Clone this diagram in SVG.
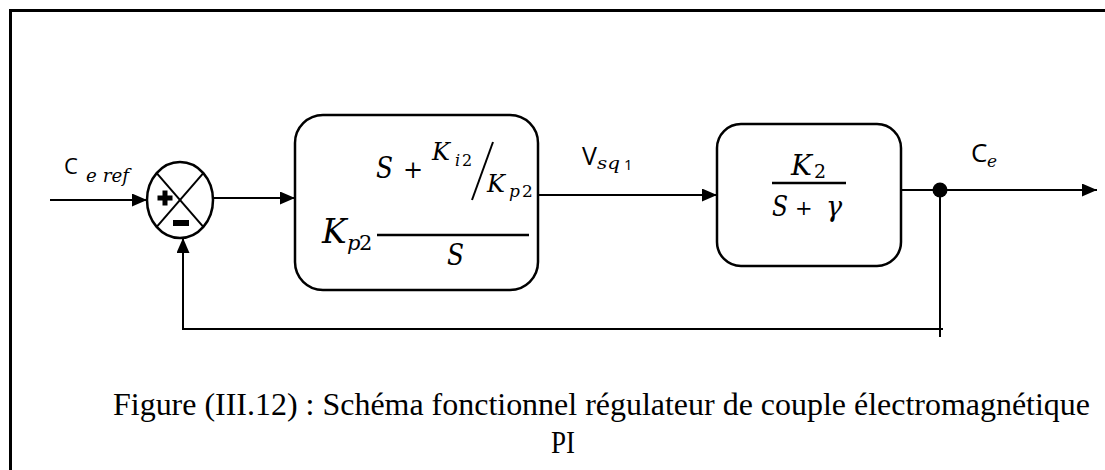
<svg xmlns="http://www.w3.org/2000/svg" width="1105" height="470" viewBox="0 0 1105 470">
  <style>
    .frame { stroke: #000; stroke-width: 3; fill: none; }
    .block { fill: #fff; stroke: #000; stroke-width: 2.5; }
    .wire { stroke: #000; stroke-width: 2; fill: none; }
    .sig { font-family: "Open Sans", "DejaVu Sans", sans-serif; fill: #000; }
    .math { font-family: "DejaVu Serif", "Liberation Serif", serif; font-style: italic; fill: #000; }
    .mathup { font-family: "DejaVu Serif", "Liberation Serif", serif; fill: #000; }
    .caption { font-family: "Liberation Serif", "Times New Roman", serif; font-size: 32px; fill: #000; }
  </style>
  <defs>
    <marker id="arrow" markerUnits="userSpaceOnUse" markerWidth="15" markerHeight="13" refX="15" refY="6.5" orient="auto">
      <path d="M0,0 L15,6.5 L0,13 Z" fill="#000"/>
    </marker>
    <clipPath id="box1clip">
      <rect x="295" y="115" width="242" height="175"/>
    </clipPath>
  </defs>

  <rect width="1105" height="470" fill="#fff"/>

  <!-- page frame: top and left edges -->
  <path class="frame" d="M10.5,470 L10.5,10.5 L1105,10.5"/>

  <!-- connectors -->
  <g id="connectors">
    <line class="wire" x1="50" y1="200" x2="147" y2="200" marker-end="url(#arrow)"/>
    <line class="wire" x1="213" y1="198" x2="295" y2="198" marker-end="url(#arrow)"/>
    <line class="wire" x1="538" y1="195" x2="717" y2="195" marker-end="url(#arrow)"/>
    <line class="wire" x1="901" y1="190" x2="1097" y2="190" marker-end="url(#arrow)"/>
    <line class="wire" x1="940" y1="190" x2="940" y2="337"/>
    <line class="wire" x1="182" y1="329" x2="943" y2="329"/>
    <line class="wire" x1="183" y1="330" x2="183" y2="238" marker-end="url(#arrow)"/>
    <circle cx="940" cy="190" r="7.5" fill="#000"/>
  </g>

  <!-- summing junction -->
  <g id="summer">
    <ellipse cx="180" cy="200" rx="33" ry="38" fill="#fff" stroke="#000" stroke-width="2.5"/>
    <line class="wire" x1="156.7" y1="173.2" x2="203.3" y2="226.8"/>
    <line class="wire" x1="203.3" y1="173.2" x2="156.7" y2="226.8"/>
    <rect x="157.5" y="195.5" width="15" height="5" fill="#000"/>
    <rect x="162.5" y="190.5" width="5" height="15" fill="#000"/>
    <rect x="173" y="220" width="16" height="6" fill="#000"/>
  </g>

  <!-- reference input label -->
  <g id="label-ceref">
    <text class="sig" x="64" y="174" font-size="22">C</text>
    <text class="math" x="86" y="182" font-size="18" textLength="43" lengthAdjust="spacingAndGlyphs">e ref</text>
  </g>

  <!-- PI controller block -->
  <g id="pi-block">
    <rect class="block" x="295" y="115" width="243" height="175" rx="28" ry="28"/>
    <text class="math" x="376" y="178" font-size="29" textLength="17" lengthAdjust="spacingAndGlyphs">S</text>
    <text class="mathup" x="403" y="178" font-size="24">+</text>
    <text class="math" x="432" y="160" font-size="24">K</text>
    <text class="math" x="455" y="166" font-size="16">i</text>
    <text class="mathup" x="462" y="166" font-size="16">2</text>
    <line x1="472" y1="200" x2="493" y2="142" stroke="#000" stroke-width="2"/>
    <g clip-path="url(#box1clip)">
      <text class="math" x="487" y="192" font-size="24">K</text>
      <text class="math" x="509" y="197" font-size="17">p</text>
      <text class="mathup" x="522" y="197" font-size="17">2</text>
    </g>
    <line x1="377" y1="235" x2="529" y2="235" stroke="#000" stroke-width="2.5"/>
    <text class="math" x="322" y="243" font-size="33">K</text>
    <text class="math" x="347" y="250" font-size="21">p</text>
    <text class="mathup" x="359" y="250" font-size="21">2</text>
    <text class="math" x="447" y="265" font-size="30" textLength="17" lengthAdjust="spacingAndGlyphs">S</text>
  </g>

  <!-- intermediate signal label -->
  <g id="label-vsq1">
    <text class="sig" x="582" y="165" font-size="25">V</text>
    <text class="math" x="597" y="169" font-size="17" textLength="23" lengthAdjust="spacingAndGlyphs">sq</text>
    <text class="sig" x="624" y="170" font-size="15">1</text>
  </g>

  <!-- plant block -->
  <g id="plant-block">
    <rect class="block" x="717" y="124" width="184" height="142" rx="24" ry="24"/>
    <text class="math" x="791" y="175" font-size="28">K</text>
    <text class="mathup" x="814" y="178" font-size="19">2</text>
    <line x1="772" y1="183" x2="846" y2="183" stroke="#000" stroke-width="2.5"/>
    <text class="math" x="772" y="216" font-size="27" textLength="16" lengthAdjust="spacingAndGlyphs">S</text>
    <text class="mathup" x="795" y="215" font-size="21">+</text>
    <text class="math" x="826" y="216" font-size="27">γ</text>
  </g>

  <!-- output label -->
  <g id="label-ce">
    <text class="sig" x="971" y="162" font-size="26">C</text>
    <text class="math" x="987" y="167" font-size="17">e</text>
  </g>

  <!-- caption -->
  <text class="caption" x="113" y="415" textLength="977" lengthAdjust="spacingAndGlyphs">Figure (III.12) : Schéma fonctionnel régulateur de couple électromagnétique</text>
  <text class="caption" x="551" y="453" textLength="24" lengthAdjust="spacingAndGlyphs">PI</text>
</svg>
